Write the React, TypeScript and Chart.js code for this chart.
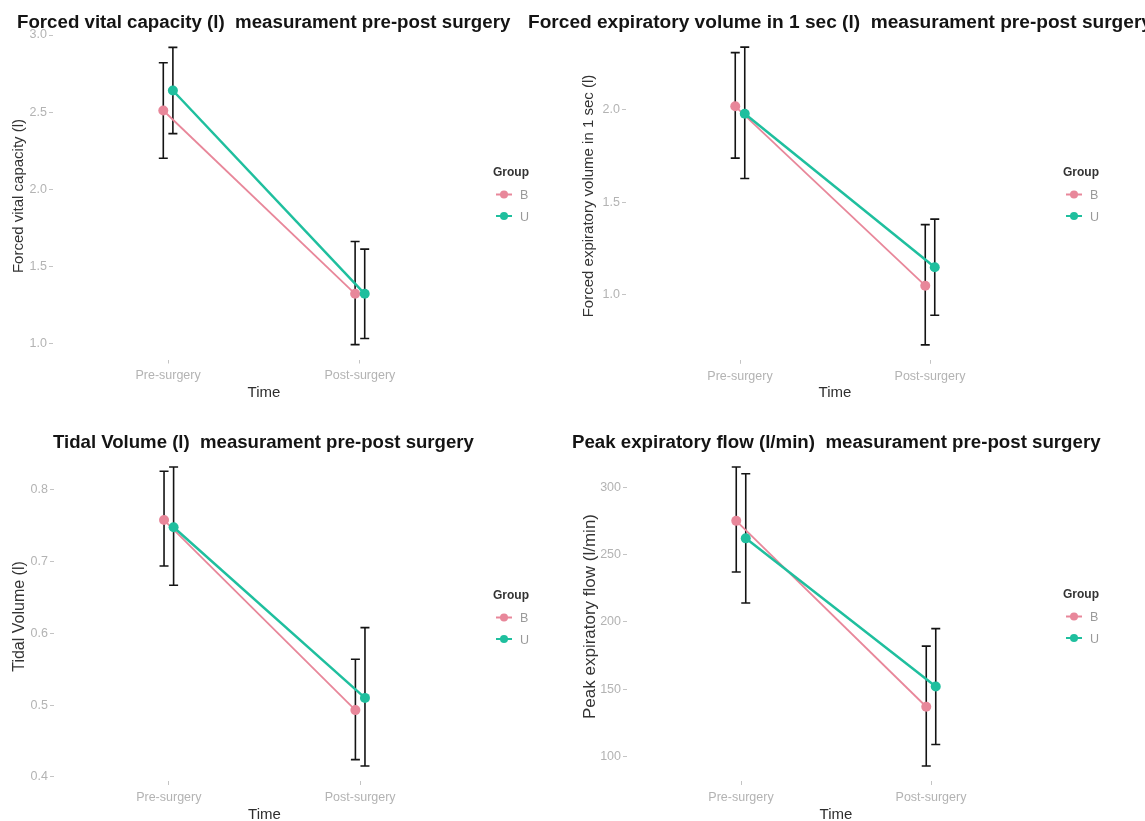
import React, { useEffect, useRef } from 'react';
import { Chart, registerables } from 'chart.js';
Chart.register(...registerables);

const FONT = '"Liberation Sans", Arial, Helvetica, sans-serif';

// ---- shared categories / groups ----
const timeLabels = ['Pre-surgery', 'Post-surgery'];
const groupNames = ['B', 'U'];
const groupColors = ['#e8879a', '#1fbf9e'];

// ---- Forced vital capacity (l) ----
const fvcMeanB = [2.51, 1.32];
const fvcLowB = [2.2, 0.99];
const fvcHighB = [2.82, 1.66];
const fvcMeanU = [2.64, 1.32];
const fvcLowU = [2.36, 1.03];
const fvcHighU = [2.92, 1.61];
const fvcTicks = [1.0, 1.5, 2.0, 2.5, 3.0];

// ---- Forced expiratory volume in 1 sec (l) ----
const fev1MeanB = [2.02, 1.05];
const fev1LowB = [1.74, 0.73];
const fev1HighB = [2.31, 1.38];
const fev1MeanU = [1.98, 1.15];
const fev1LowU = [1.63, 0.89];
const fev1HighU = [2.34, 1.41];
const fev1Ticks = [1.0, 1.5, 2.0];

// ---- Tidal volume (l) ----
const tvMeanB = [0.758, 0.493];
const tvLowB = [0.694, 0.424];
const tvHighB = [0.826, 0.564];
const tvMeanU = [0.748, 0.51];
const tvLowU = [0.667, 0.415];
const tvHighU = [0.832, 0.608];
const tvTicks = [0.4, 0.5, 0.6, 0.7, 0.8];

// ---- Peak expiratory flow (l/min) ----
const pefMeanB = [275, 137];
const pefLowB = [237, 93];
const pefHighB = [315, 182];
const pefMeanU = [262, 152];
const pefLowU = [214, 109];
const pefHighU = [310, 195];
const pefTicks = [100, 150, 200, 250, 300];

const DODGE = 0.025;

type Panel = {
  key: string;
  title: string;
  titleSize: number;
  yTitle: string;
  mean: number[][];
  low: number[][];
  high: number[][];
  ticks: number[];
  decimals: number;
  box: { x: number; y: number; w: number; h: number };
  area: { left: number; right: number; top: number; bottom: number };
  titlePos: { x: number; y: number };
  legendPos: { x: number; y: number };
  yTitleX: number;
  yTitleSize: number;
};

const panels: Panel[] = [
  {
    key: 'fvc',
    title: 'Forced vital capacity (l)  measurament pre-post surgery',
    titleSize: 18.7,
    yTitle: 'Forced vital capacity (l)',
    mean: [fvcMeanB, fvcMeanU],
    low: [fvcLowB, fvcLowU],
    high: [fvcHighB, fvcHighU],
    ticks: fvcTicks,
    decimals: 1,
    box: { x: 0, y: 0, w: 572, h: 410 },
    area: { left: 53, right: 475, top: 32.5, bottom: 359.5 },
    titlePos: { x: 17, y: 28 },
    legendPos: { x: 493, y: 172 },
    yTitleX: 19,
    yTitleSize: 15,
  },
  {
    key: 'fev1',
    title: 'Forced expiratory volume in 1 sec (l)  measurament pre-post surgery',
    titleSize: 19.1,
    yTitle: 'Forced expiratory volume in 1 sec (l)',
    mean: [fev1MeanB, fev1MeanU],
    low: [fev1LowB, fev1LowU],
    high: [fev1HighB, fev1HighU],
    ticks: fev1Ticks,
    decimals: 1,
    box: { x: 520, y: 0, w: 625, h: 410 },
    area: { left: 626, right: 1044, top: 32.2, bottom: 359.8 },
    titlePos: { x: 528, y: 28 },
    legendPos: { x: 1063, y: 172 },
    yTitleX: 589,
    yTitleSize: 15,
  },
  {
    key: 'tv',
    title: 'Tidal Volume (l)  measurament pre-post surgery',
    titleSize: 18.6,
    yTitle: 'Tidal Volume (l)',
    mean: [tvMeanB, tvMeanU],
    low: [tvLowB, tvLowU],
    high: [tvHighB, tvHighU],
    ticks: tvTicks,
    decimals: 1,
    box: { x: 0, y: 410, w: 572, h: 411 },
    area: { left: 54, right: 475, top: 452, bottom: 781 },
    titlePos: { x: 53, y: 448 },
    legendPos: { x: 493, y: 595 },
    yTitleX: 19,
    yTitleSize: 16,
  },
  {
    key: 'pef',
    title: 'Peak expiratory flow (l/min)  measurament pre-post surgery',
    titleSize: 18.7,
    yTitle: 'Peak expiratory flow (l/min)',
    mean: [pefMeanB, pefMeanU],
    low: [pefLowB, pefLowU],
    high: [pefHighB, pefHighU],
    ticks: pefTicks,
    decimals: 0,
    box: { x: 520, y: 410, w: 625, h: 411 },
    area: { left: 627, right: 1045, top: 452, bottom: 781 },
    titlePos: { x: 572, y: 448 },
    legendPos: { x: 1063, y: 594 },
    yTitleX: 589,
    yTitleSize: 17,
  },
];

const errorBarPlugin = {
  id: 'errorBars',
  beforeDatasetsDraw(chart: any) {
    const ctx = chart.ctx;
    const xs = chart.scales.x;
    const ys = chart.scales.y;
    ctx.save();
    ctx.strokeStyle = '#141414';
    ctx.lineWidth = 1.6;
    chart.data.datasets.forEach((ds: any) => {
      ds.data.forEach((p: any, i: number) => {
        const x = xs.getPixelForValue(p.x);
        const y1 = ys.getPixelForValue(ds.errLow[i]);
        const y2 = ys.getPixelForValue(ds.errHigh[i]);
        ctx.beginPath();
        ctx.moveTo(x, y1);
        ctx.lineTo(x, y2);
        ctx.moveTo(x - 4.5, y1);
        ctx.lineTo(x + 4.5, y1);
        ctx.moveTo(x - 4.5, y2);
        ctx.lineTo(x + 4.5, y2);
        ctx.stroke();
      });
    });
    ctx.restore();
  },
};

const panelTextPlugin = {
  id: 'panelText',
  afterDraw(chart: any, _args: any, opts: any) {
    const ctx = chart.ctx;
    ctx.save();
    ctx.textAlign = 'left';
    ctx.textBaseline = 'alphabetic';
    ctx.fillStyle = '#141414';
    ctx.font = `bold ${opts.titleSize}px ${FONT}`;
    ctx.fillText(opts.title, opts.titleX, opts.titleY);

    const lx = opts.legendX;
    const ly = opts.legendY;
    ctx.fillStyle = '#333333';
    ctx.font = `bold 12px ${FONT}`;
    ctx.fillText('Group', lx, ly + 4);
    chart.data.datasets.forEach((ds: any, k: number) => {
      const cy = ly + 22.5 + k * 21.5;
      ctx.strokeStyle = ds.borderColor;
      ctx.lineWidth = 2;
      ctx.beginPath();
      ctx.moveTo(lx + 3, cy);
      ctx.lineTo(lx + 19, cy);
      ctx.stroke();
      ctx.fillStyle = ds.backgroundColor;
      ctx.beginPath();
      ctx.arc(lx + 11, cy, 4, 0, Math.PI * 2);
      ctx.fill();
      ctx.fillStyle = '#9a9a9a';
      ctx.font = `12.5px ${FONT}`;
      ctx.fillText(ds.label, lx + 27, cy + 4.5);
    });
    ctx.restore();
  },
};

function PanelChart({ p }: { p: Panel }) {
  const ref = useRef<HTMLCanvasElement | null>(null);

  useEffect(() => {
    if (!ref.current) return;
    const lo = Math.min(...p.low[0], ...p.low[1]);
    const hi = Math.max(...p.high[0], ...p.high[1]);
    const pad = (hi - lo) * 0.05;
    const yW = p.area.left - p.yTitleX + 12;
    const xH = 40;
    const left = p.area.left - p.box.x;
    const right = p.area.right - p.box.x;
    const top = p.area.top - p.box.y;
    const bottom = p.area.bottom - p.box.y;

    const datasets = groupNames.map((g, k) => ({
      label: g,
      data: p.mean[k].map((v, i) => ({ x: i + 1 + (k === 0 ? -DODGE : DODGE), y: v })),
      errLow: p.low[k],
      errHigh: p.high[k],
      borderColor: groupColors[k],
      backgroundColor: groupColors[k],
      pointBackgroundColor: groupColors[k],
      pointBorderColor: groupColors[k],
      pointRadius: 5,
      pointBorderWidth: 0,
      borderWidth: k === 0 ? 1.8 : 2.5,
      tension: 0,
      order: k === 0 ? 1 : 0,
    }));

    const tickFont = { family: FONT, size: 12.5 };
    const grid = {
      drawOnChartArea: false,
      drawTicks: true,
      tickLength: 4,
      color: '#c4c4c4',
      tickWidth: 1,
    };

    const chart = new Chart(ref.current, {
      type: 'line',
      data: { datasets } as any,
      plugins: [errorBarPlugin, panelTextPlugin],
      options: {
        responsive: false,
        animation: false,
        layout: {
          padding: {
            left: left - yW,
            right: p.box.w - right,
            top: top,
            bottom: p.box.h - bottom - xH,
          },
        },
        plugins: {
          legend: { display: false },
          title: { display: false },
          tooltip: { enabled: false },
          panelText: {
            title: p.title,
            titleSize: p.titleSize,
            titleX: p.titlePos.x - p.box.x,
            titleY: p.titlePos.y - p.box.y,
            legendX: p.legendPos.x - p.box.x,
            legendY: p.legendPos.y - p.box.y,
          },
        } as any,
        scales: {
          x: {
            type: 'linear',
            min: 0.4,
            max: 2.6,
            afterBuildTicks: (s: any) => {
              s.ticks = timeLabels.map((_, i) => ({ value: i + 1 }));
            },
            afterFit: (s: any) => {
              s.height = xH;
            },
            ticks: {
              callback: (v: any) => timeLabels[Math.round(Number(v)) - 1] ?? '',
              color: '#b3b3b3',
              font: tickFont,
              padding: 5,
              maxRotation: 0,
              autoSkip: false,
            },
            grid,
            border: { display: false },
            title: {
              display: true,
              text: 'Time',
              color: '#2e2e2e',
              font: { family: FONT, size: 15 },
              padding: { top: 0, bottom: -2.5 },
            },
          },
          y: {
            type: 'linear',
            min: lo - pad,
            max: hi + pad,
            afterBuildTicks: (s: any) => {
              s.ticks = p.ticks.map((v) => ({ value: v }));
            },
            afterFit: (s: any) => {
              s.width = yW;
            },
            ticks: {
              callback: (v: any) => Number(v).toFixed(p.decimals),
              color: '#b3b3b3',
              font: tickFont,
              padding: 2,
            },
            grid,
            border: { display: false },
            title: {
              display: true,
              text: p.yTitle,
              color: '#333333',
              font: { family: FONT, size: p.yTitleSize },
              padding: { top: 3, bottom: 0 },
            },
          },
        },
      } as any,
    });
    return () => chart.destroy();
  }, [p]);

  return (
    <canvas
      ref={ref}
      width={p.box.w}
      height={p.box.h}
      style={{ position: 'absolute', left: p.box.x, top: p.box.y, width: p.box.w, height: p.box.h }}
    />
  );
}

export default function App() {
  return (
    <div
      style={{
        position: 'absolute',
        left: 0,
        top: 0,
        width: 1145,
        height: 821,
        background: '#ffffff',
        overflow: 'hidden',
      }}
    >
      {panels.map((p) => (
        <PanelChart key={p.key} p={p} />
      ))}
    </div>
  );
}
